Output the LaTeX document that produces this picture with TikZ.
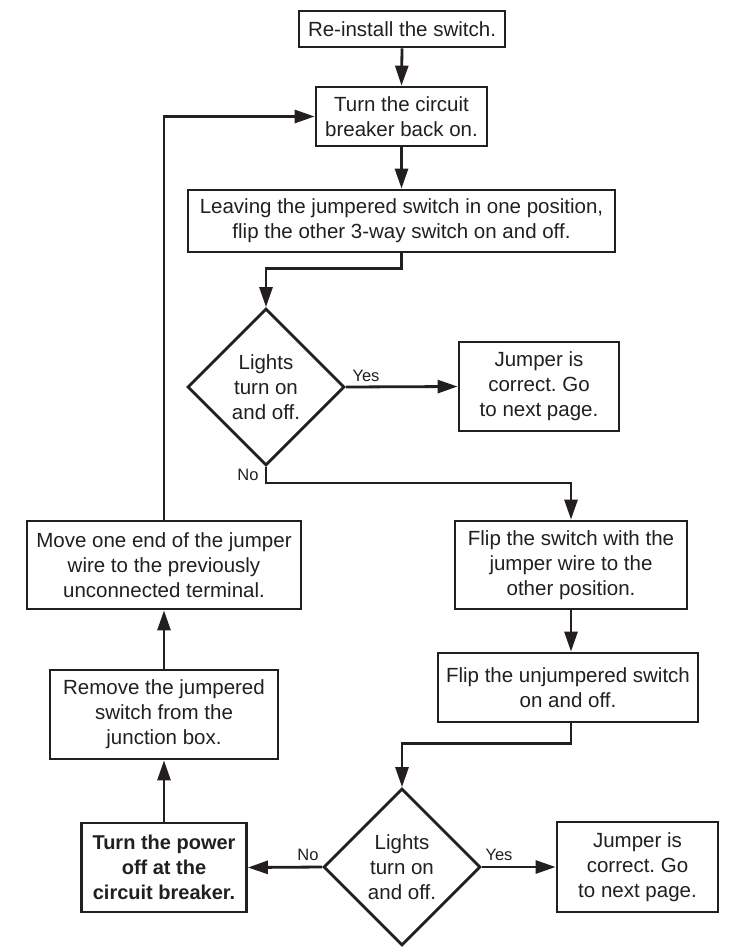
\documentclass[tikz,border=0pt]{standalone}
\usepackage{fontspec}
\setmainfont{Liberation Sans}
\usetikzlibrary{shapes.geometric,arrows.meta}
\definecolor{ink}{RGB}{35,31,32}
\frenchspacing
\begin{document}
\begin{tikzpicture}[x=1pt,y=-1pt,
  every node/.style={text=ink},
  box/.style={draw=ink,line width=2.8pt,rectangle,align=center,inner sep=0pt,
    font=\fontsize{20.5}{25}\selectfont},
  dec/.style={draw=ink,line width=2.8pt,diamond,align=center,inner sep=0pt,
    minimum width=157pt,minimum height=157pt,font=\fontsize{20.5}{25}\selectfont},
  lbl/.style={font=\fontsize{16.5}{19}\selectfont,inner sep=0pt},
  conn/.style={draw=ink,line width=2.8pt,-{Triangle[length=20pt,width=13pt]}}]
\useasboundingbox (0,0) rectangle (729,947);
\fill[white] (0,0) rectangle (729,947);

\node[box,minimum width=206pt,minimum height=36pt] (b1) at (402,29) {Re-install the switch.};
\node[box,minimum width=171pt,minimum height=59pt] (b2) at (401.5,116.5) {Turn the circuit\\breaker back on.};
\node[box,minimum width=427pt,minimum height=62pt] (b3) at (401.5,221) {Leaving the jumpered switch in one position,\\flip the other 3-way switch on and off.};
\node[dec] (d1) at (266,387) {Lights\\turn on\\and off.};
\node[box,minimum width=160pt,minimum height=89pt] (j1) at (539,386.5) {Jumper is\\correct. Go\\to next page.};
\node[box,minimum width=232pt,minimum height=88pt] (f1) at (571,565) {Flip the switch with the\\jumper wire to the\\other position.};
\node[box,minimum width=260pt,minimum height=69pt] (f2) at (568,687.5) {Flip the unjumpered switch\\on and off.};
\node[dec] (d2) at (402,867) {Lights\\turn on\\and off.};
\node[box,minimum width=161pt,minimum height=90pt] (j2) at (637.5,867) {Jumper is\\correct. Go\\to next page.};
\node[box,minimum width=165pt,minimum height=89pt,font=\fontsize{20}{25}\selectfont\bfseries] (pw) at (164,867.5) {Turn the power\\off at the\\circuit breaker.};
\node[box,minimum width=228pt,minimum height=89pt] (rm) at (164,714.5) {Remove the jumpered\\switch from the\\junction box.};
\node[box,minimum width=274pt,minimum height=88pt] (mv) at (164,565) {Move one end of the jumper\\wire to the previously\\unconnected terminal.};

\node[lbl] (y1) at (366,376) {Yes};
\node[lbl] (n1) at (248,475) {No};
\node[lbl] (n2) at (308,855) {No};
\node[lbl] (y2) at (499,855) {Yes};

\draw[conn] (b1.south) -- (b2.north);
\draw[conn] (b2.south) -- (b3.north);
\draw[conn] (b3.south) -- ++(0,15) -| (d1.north);
\draw[conn] (d1.east) -- (j1.west);
\draw[conn] (d1.south) -- ++(0,16) -| (f1.north);
\draw[conn] (f1.south) -- (f1.south |- f2.north);
\draw[conn] (f1.south |- f2.south) -- ++(0,20) -| (d2.north);
\draw[conn] (d2.east) -- (j2.west);
\draw[conn] (d2.west) -- (pw.east);
\draw[conn] (pw.north) -- (rm.south);
\draw[conn] (rm.north) -- (mv.south);
\draw[conn] (mv.north) -- (mv.north |- b2.west) -- (b2.west);
\end{tikzpicture}
\end{document}
